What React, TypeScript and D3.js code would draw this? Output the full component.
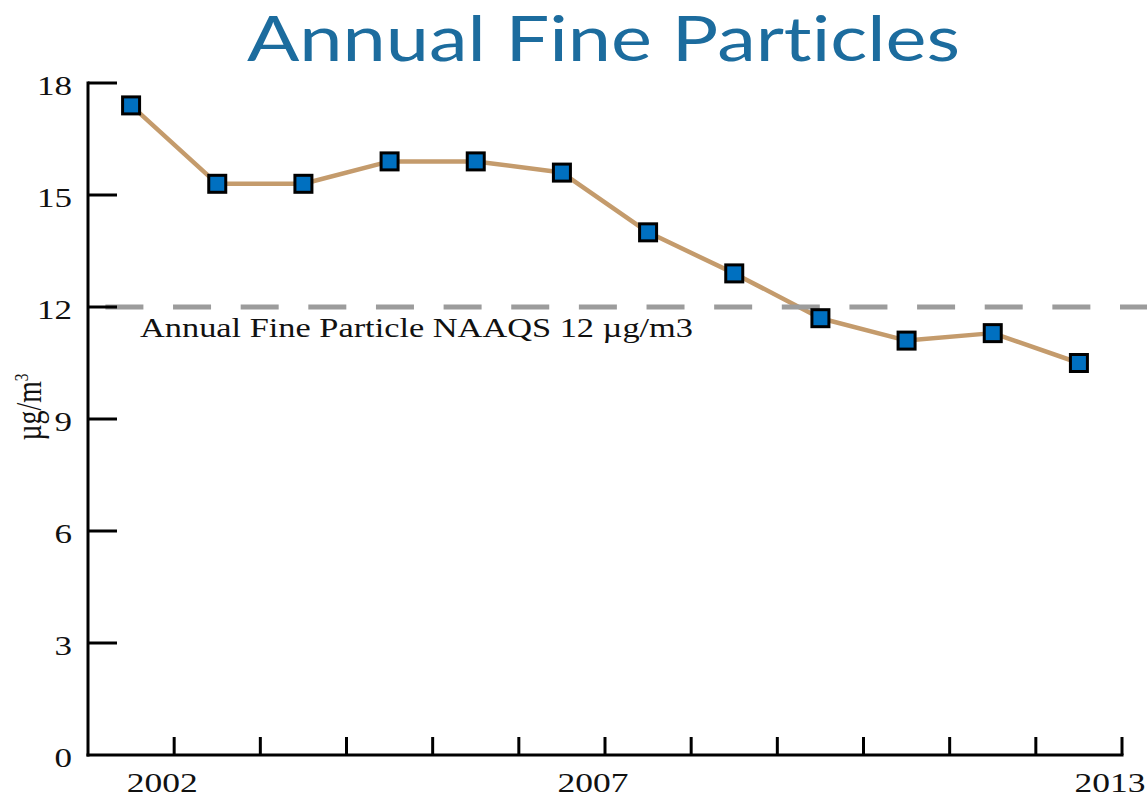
import React from "react";
import * as d3 from "d3";

const years = [2002, 2003, 2004, 2005, 2006, 2007, 2008, 2009, 2010, 2011, 2012, 2013];
const values = [17.4, 15.3, 15.3, 15.9, 15.9, 15.6, 14.0, 12.9, 11.7, 11.1, 11.3, 10.5];
const yTicks = [0, 3, 6, 9, 12, 15, 18];
const xLabelYears = [2002, 2007, 2013];
const standardValue = 12;
const titleText = "Annual Fine Particles";
const standardLabel = "Annual Fine Particle NAAQS 12 µg/m3";

const W = 1147;
const H = 797;
const left = 88;
const right = 1122;
const top = 83;
const bottom = 755;
const serif = "'Liberation Serif', 'DejaVu Serif', serif";

export default function App() {
  const x = d3.scaleBand<number>().domain(years).range([left, right]).padding(0);
  const bw = x.bandwidth();
  const y = d3.scaleLinear().domain([0, 18]).range([bottom, top]);

  const pts: [number, number][] = years.map((yr, i) => [x(yr)! + bw / 2, y(values[i])]);
  const line = d3.line()(pts) || "";

  const period = 67.64;
  const dash = 38;
  const firstDash = 105.4;
  const offset = period - (firstDash - left);

  const threshold = (
    <line
      x1={left}
      x2={W}
      y1={y(standardValue)}
      y2={y(standardValue)}
      stroke="#9c9c9c"
      strokeWidth={5}
      strokeDasharray={`${dash},${period - dash}`}
      strokeDashoffset={offset}
    />
  );

  return (
    <svg width={W} height={H} style={{ position: "absolute", left: 0, top: 0, background: "#fff" }}>
      <text
        x={603.5}
        y={61}
        textAnchor="middle"
        fontFamily="Lato, 'Open Sans', sans-serif"
        fontSize={62}
        fill="#1c6c9e"
        textLength={713}
        lengthAdjust="spacingAndGlyphs"
        style={{ fontVariantLigatures: "none", fontFeatureSettings: "'liga' 0, 'clig' 0" }}
      >
        {titleText}
      </text>

      {/* data line */}
      <path d={line} fill="none" stroke="#c49b6c" strokeWidth={4.5} strokeLinejoin="round" />
      {threshold}

      <text
        x={140}
        y={y(standardValue) + 30}
        fontFamily={serif}
        fontSize={28}
        fill="#111"
        textLength={553}
        lengthAdjust="spacingAndGlyphs"
      >
        {standardLabel}
      </text>

      {/* axes */}
      <line x1={left} x2={left} y1={top - 1.5} y2={bottom + 1.5} stroke="#000" strokeWidth={3} />
      <line x1={left - 1.5} x2={right + 1.5} y1={bottom} y2={bottom} stroke="#000" strokeWidth={3} />
      {yTicks.map((t) => (
        <g key={t}>
          {t > 0 && <line x1={left} x2={left + 29} y1={y(t)} y2={y(t)} stroke="#000" strokeWidth={3} />}
          <text
            x={72}
            y={y(t) + 12}
            textAnchor="end"
            fontFamily={serif}
            fontSize={28}
            fill="#111"
            textLength={String(t).length * 17.5}
            lengthAdjust="spacingAndGlyphs"
          >
            {t}
          </text>
        </g>
      ))}
      {years.map((yr) => (
        <line
          key={yr}
          x1={x(yr)! + bw}
          x2={x(yr)! + bw}
          y1={bottom}
          y2={bottom - 18}
          stroke="#000"
          strokeWidth={3}
        />
      ))}
      {xLabelYears.map((yr) => (
        <text
          key={yr}
          x={x(yr)! + bw - 12}
          y={792}
          textAnchor="middle"
          fontFamily={serif}
          fontSize={28}
          fill="#111"
          textLength={71}
          lengthAdjust="spacingAndGlyphs"
        >
          {yr}
        </text>
      ))}

      <text
        transform={`translate(41, 407) rotate(-90) scale(1, 1.3)`}
        textAnchor="middle"
        fontFamily={serif}
        fontSize={27}
        fill="#111"
        textLength={67}
        lengthAdjust="spacingAndGlyphs"
      >
        µg/m<tspan dy={-10} fontSize={15}>3</tspan>
      </text>

      {/* markers */}
      {pts.map(([px, py], i) => (
        <rect
          key={i}
          x={px - 8.5}
          y={py - 8.5}
          width={17}
          height={17}
          fill="#0070c0"
          stroke="#000"
          strokeWidth={3}
        />
      ))}
    </svg>
  );
}
